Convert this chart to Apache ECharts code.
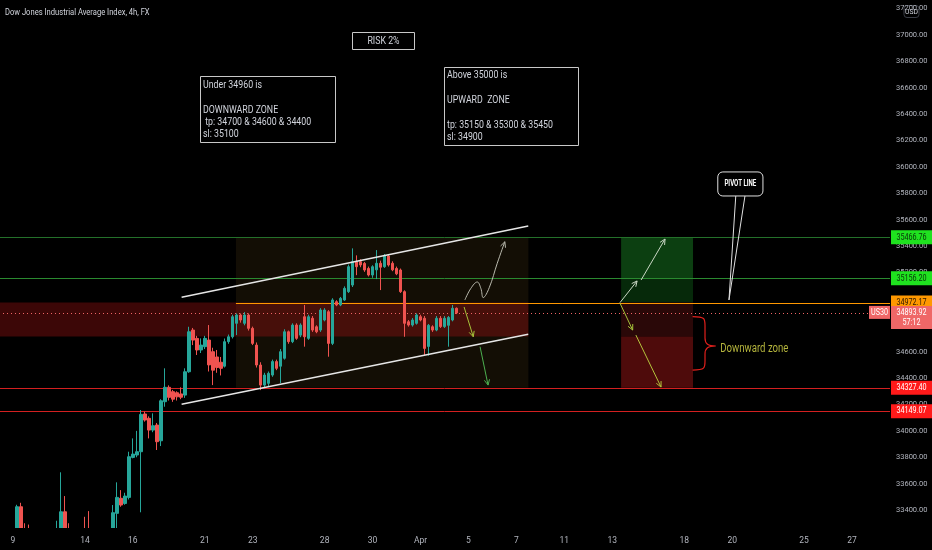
<!DOCTYPE html>
<html><head><meta charset="utf-8">
<script src="https://cdn.jsdelivr.net/npm/echarts@6/dist/echarts.min.js"></script>
<style>html,body{margin:0;padding:0;background:#000;}#c{width:932px;height:550px;}</style>
</head><body><div id="c"></div>
<script>
const FONT = "Roboto,'Liberation Sans',sans-serif";

// ---------- axis / categories ----------
const tradingDays = ['Mar 8','Mar 9','Mar 10','Mar 11','Mar 14','Mar 15','Mar 16','Mar 17','Mar 18','Mar 21','Mar 22','Mar 23','Mar 24','Mar 25','Mar 28','Mar 29','Mar 30','Mar 31','Apr 1','Apr 4','Apr 5','Apr 6','Apr 7','Apr 8','Apr 11','Apr 12','Apr 13','Apr 14','Apr 15','Apr 18','Apr 19','Apr 20','Apr 21','Apr 22','Apr 25','Apr 26','Apr 27','Apr 28'];
const barHours = ['01:00','05:00','09:00','13:00','17:00','21:00'];
const tickDays = ['Mar 9','Mar 14','Mar 16','Mar 21','Mar 23','Mar 28','Mar 30','Apr 1','Apr 5','Apr 7','Apr 11','Apr 13','Apr 18','Apr 20','Apr 25','Apr 27'];
const tickLabels = ['9','14','16','21','23','28','30','Apr','5','7','11','13','18','20','25','27'];
const firstDayBars = 3;
const totalBars = 223;
const yMin = 33264, yMax = 37265;

// ---------- candles (4h) ----------
const opens  = [32760,32700,32650,32640,33150,33425,33220,33240,33200,33150,32950,33020,33100,33050,33120,33200,33387,33200,33150,33050,32980,33100,33150,33050,32900,32800,32950,32960,33150,33375,33489,33450,33496,33799,33817,33842,34128,34095,34006,34044,33925,34221,34330,34297,34289,34280,34271,34448,34764,34701,34613,34638,34688,34600,34560,34520,34490,34676,34713,34815,34878,34815,34878,34777,34650,34499,34347,34360,34423,34525,34490,34550,34751,34676,34802,34726,34865,34701,34853,34789,34764,34840,34903,34663,34979,34954,34992,35055,35105,35282,35282,35269,35231,35181,35220,35270,35244,35325,35270,35231,35219,35055,34827,34802,34815,34865,34853,34640,34789,34764,34853,34790,34800,34840,34929];
const closes = [32700,32650,32630,33150,33425,33220,33190,33200,33150,32950,33020,33100,33050,33120,33200,33387,33200,33150,33050,32980,32950,33020,33050,32900,32800,32950,32960,33150,33380,33496,33438,33506,33804,33824,33842,34125,34082,34006,34039,33918,34228,34330,34254,34240,34258,34255,34448,34751,34688,34613,34650,34701,34500,34460,34480,34474,34676,34713,34865,34878,34840,34878,34777,34663,34499,34347,34423,34436,34525,34474,34600,34751,34676,34802,34701,34802,34713,34865,34764,34751,34916,34916,34663,34992,34954,35004,35080,35244,35282,35244,35257,35219,35181,35244,35270,35240,35325,35257,35220,35190,35055,34815,34802,34840,34878,34840,34625,34800,34764,34853,34790,34853,34860,34929,34894];
const lows   = [32640,32600,32580,32600,33080,33180,33150,33150,33100,32900,32880,32990,33000,33020,33080,33150,33160,33100,33000,32940,32900,32990,33000,32850,32750,32760,32900,32930,33120,33240,33425,33440,33480,33792,33800,33383,34070,33943,33990,33855,33885,34183,34230,34220,34230,34240,34250,34440,34650,34575,34590,34620,34450,34347,34440,34420,34480,34660,34700,34726,34820,34800,34760,34650,34480,34309,34330,34340,34410,34460,34362,34540,34660,34665,34690,34710,34638,34690,34750,34740,34750,34830,34562,34650,34945,34945,34985,35045,35090,35180,35240,35205,35170,35160,35150,35067,35235,35245,35210,35180,35045,34713,34790,34790,34805,34830,34575,34570,34750,34755,34780,34780,34638,34830,34885];
const highs  = [32800,32760,32720,33200,33440,33455,33300,33290,33250,33200,33080,33180,33200,33230,33319,33686,33506,33300,33220,33120,33050,33349,33392,33100,32950,33000,33050,33200,33438,33610,33551,33531,33842,33943,34000,34158,34145,34110,34133,34060,34240,34474,34345,34310,34300,34330,34474,34789,34780,34720,34701,34720,34802,34630,34613,34560,34700,34730,34880,34890,34890,34900,34890,34790,34670,34520,34440,34450,34540,34540,34620,34770,34760,34815,34815,34815,34954,34880,34870,34800,34930,34930,34915,35005,34990,35015,35095,35260,35383,35330,35300,35280,35245,35255,35370,35290,35340,35335,35285,35245,35230,35065,34840,34855,34890,34880,34870,34810,34800,34870,34870,34870,34870,34954,34935];

// ---------- horizontal levels ----------
const levelPrices = [35466.76, 35156.20, 34972.17, 34893.92, 34327.40, 34149.07];
const levelLabels = ['35466.76','35156.20','34972.17','34893.92','34327.40','34149.07'];
const levelStartIdx = [-0.5, -0.5, 58.8, -0.5, -0.5, -0.5];
const symbolTag = 'US30';
const countdown = '57:12';

// ---------- drawings (bar index, price) ----------
const zoneRects = [
  [58.8, 132, 35467, 34327],
  [-0.5, 132, 34972, 34716],
  [155.2, 173.2, 35466.76, 35156.2],
  [155.2, 173.2, 35156.2, 34972.17],
  [155.2, 173.2, 34972.17, 34716],
  [155.2, 173.2, 34716, 34327.4]
];
const channelLines = [
  [45.2, 35012, 131.96, 35552],
  [45.2, 34201, 131.96, 34732]
];
const arrowSegs = [
  [115.9, 34939, 118.2, 34713],
  [119.9, 34638, 121.9, 34347],
  [154.9, 34971, 159.2, 35136],
  [160.2, 35143, 166.2, 35454],
  [154.9, 34969, 158.1, 34764],
  [158.9, 34726, 165.2, 34332]
];
const curvePoints = [[116.1,34992],[117.6,35080],[119.2,35128],[120.1,35080],[120.7,35010],[122.2,35085],[124.2,35270],[126.1,35433]];
const pivotBox = [179.4, 190.7, 35962, 35780];
const pivotPointer = [183.9, 186.2, 182.2, 34992];
const braceAnchor = [173.1, 176.2, 178.9, 34866, 34643, 34461];
const zoneTextAnchor = [180.0, 34620];

// ---------- styles ----------
const zoneColors = ['rgba(58,42,16,0.32)','rgba(150,18,18,0.40)','#0c3f11','#06290a','#2a0808','#4e0b0b'];
const levelStyles = [
  {line:'#24702a', dash:null, bg:'#1fe21f', fg:'#0a320a'},
  {line:'#2a8a30', dash:null, bg:'#1fe21f', fg:'#0a320a'},
  {line:'#ff9800', dash:null, bg:'#ff9800', fg:'#2b1700'},
  {line:'#f06464', dash:[1,3], bg:'#ef6767', fg:'#ffffff'},
  {line:'#d32020', dash:null, bg:'#ff1a1a', fg:'#ffffff'},
  {line:'#d32020', dash:null, bg:'#ff1a1a', fg:'#ffffff'}
];
const arrowColors = ['#a6c23a','#4caf50','#c9d6c4','#c9d6c4','#a6c23a','#b4c43c'];
const NARROW = 0.8;

// build categories
const categories = [];
tradingDays.forEach((d,k)=>{ barHours.forEach((h,b)=>{ if(k===0 && b < barHours.length-firstDayBars) return; categories.push(d+' '+h); }); });
categories.length = totalBars;
const tickMap = {};
tickDays.forEach((d,i)=>{ tickMap[d+' '+barHours[0]] = tickLabels[i]; });

const candleData = opens.map((o,i)=>[o, closes[i], lows[i], highs[i]]);

function arrowParts(p0, p1, col){
  const ang = Math.atan2(p1[1]-p0[1], p1[0]-p0[0]);
  const L = 6, a = 0.45;
  const h1 = [p1[0]-L*Math.cos(ang-a), p1[1]-L*Math.sin(ang-a)];
  const h2 = [p1[0]-L*Math.cos(ang+a), p1[1]-L*Math.sin(ang+a)];
  return [
    {type:'line', shape:{x1:p0[0],y1:p0[1],x2:p1[0],y2:p1[1]}, style:{stroke:col,lineWidth:1}},
    {type:'polyline', shape:{points:[h1,p1,h2]}, style:{stroke:col,fill:null,lineWidth:1}}
  ];
}
function ntext(x, y, text, opts, sx){
  return {type:'text', x:x, y:y, scaleX:sx || NARROW,
    style:Object.assign({text:text, x:0, y:0, fontFamily:FONT}, opts)};
}

const chart = echarts.init(document.getElementById('c'), null, {renderer:'canvas'});
const txt = '#d1d4dc';

chart.setOption({
  backgroundColor:'#000000',
  animation:false,
  grid:{left:-1, right:42, top:0, bottom:22, outerBoundsMode:'none', containLabel:false},
  xAxis:[
    {type:'category', data:categories, boundaryGap:true, z:30,
     axisLine:{show:false}, axisTick:{show:false}, splitLine:{show:false},
     axisLabel:{color:'#b2b5be', fontSize:8.5, fontFamily:FONT, margin:8,
       interval:(idx, val)=> tickMap[val] !== undefined,
       formatter:(val)=> tickMap[val] || ''}},
    {type:'value', min:-0.5, max:totalBars-0.5, show:false}
  ],
  yAxis:[{type:'value', position:'right', min:yMin, max:yMax, splitNumber:20, minInterval:200, maxInterval:200, scale:true, z:5,
    axisLine:{show:false}, axisTick:{show:false}, splitLine:{show:false},
    axisLabel:{color:'#b2b5be', fontSize:7.5, fontFamily:FONT, margin:6, showMinLabel:false, showMaxLabel:false,
      formatter:(v)=> v.toFixed(2)}}],
  series:[
    {type:'custom', xAxisIndex:1, yAxisIndex:0, z:1, silent:true, clip:true,
     data: zoneRects, encode:{x:[0,1], y:[2,3]},
     renderItem:(params, api)=>{
       const a = api.coord([api.value(0), api.value(2)]);
       const b = api.coord([api.value(1), api.value(3)]);
       return {type:'rect', shape:{x:a[0], y:a[1], width:b[0]-a[0], height:b[1]-a[1]}, style:{fill:zoneColors[params.dataIndex]}};
     }},
    {type:'custom', xAxisIndex:1, yAxisIndex:0, z:2, silent:true,
     data: levelPrices.map((p,i)=>[levelStartIdx[i], p]), encode:{x:0, y:1},
     renderItem:(params, api)=>{
       const i = params.dataIndex, st = levelStyles[i];
       const a = api.coord([api.value(0), api.value(1)]);
       const xr = params.coordSys.x + params.coordSys.width;
       const y = Math.round(a[1]) + 0.5;
       return {type:'line', shape:{x1:a[0], y1:y, x2:xr, y2:y}, style:{stroke:st.line, lineWidth:1, lineDash:st.dash}};
     }},
    {type:'candlestick', xAxisIndex:0, yAxisIndex:0, z:3, data:candleData, barWidth:3, clip:true,
     itemStyle:{color:'#26a69a', color0:'#ef5350', borderColor:'#26a69a', borderColor0:'#ef5350', borderWidth:1}},
    {type:'custom', xAxisIndex:1, yAxisIndex:0, z:4, silent:true,
     data: channelLines, encode:{x:[0,2], y:[1,3]},
     renderItem:(params, api)=>{
       const a = api.coord([api.value(0), api.value(1)]);
       const b = api.coord([api.value(2), api.value(3)]);
       return {type:'line', shape:{x1:a[0],y1:a[1],x2:b[0],y2:b[1]}, style:{stroke:'#e6e6e6', lineWidth:1.5}};
     }},
    {type:'custom', xAxisIndex:1, yAxisIndex:0, z:4, silent:true,
     data: arrowSegs, encode:{x:[0,2], y:[1,3]},
     renderItem:(params, api)=>{
       const a = api.coord([api.value(0), api.value(1)]);
       const b = api.coord([api.value(2), api.value(3)]);
       return {type:'group', children: arrowParts(a, b, arrowColors[params.dataIndex])};
     }},
    {type:'custom', xAxisIndex:1, yAxisIndex:0, z:5, silent:true,
     data: [[0]],
     renderItem:(params, api)=>{
       const pts = curvePoints.map(p=>api.coord(p));
       const n = pts.length;
       const children = [
         {type:'polyline', shape:{points:pts, smooth:0.4}, style:{stroke:'#b9b9ad', fill:null, lineWidth:1}}
       ];
       arrowParts(pts[n-2], pts[n-1], '#b9b9ad').slice(1).forEach(c=>children.push(c));
       const b1 = api.coord([pivotPointer[0], pivotBox[3]]);
       const b2 = api.coord([pivotPointer[1], pivotBox[3]]);
       const tip = api.coord([pivotPointer[2], pivotPointer[3]]);
       children.push({type:'polyline', shape:{points:[b1, tip, b2]}, style:{stroke:'#e0e0e0', fill:null, lineWidth:1}});
       const tl = api.coord([pivotBox[0], pivotBox[2]]);
       const br = api.coord([pivotBox[1], pivotBox[3]]);
       children.push({type:'rect', shape:{x:tl[0], y:tl[1], width:br[0]-tl[0], height:br[1]-tl[1], r:5},
         style:{fill:'#000', stroke:'#e0e0e0', lineWidth:1}});
       children.push(ntext((tl[0]+br[0])/2, (tl[1]+br[1])/2, 'PIVOT LINE',
         {align:'center', verticalAlign:'middle', fill:'#ffffff', fontSize:8.5, fontWeight:'bold'}, 0.72));
       const xa = api.coord([braceAnchor[0], braceAnchor[3]])[0];
       const xm = api.coord([braceAnchor[1], braceAnchor[3]])[0];
       const xt = api.coord([braceAnchor[2], braceAnchor[3]])[0];
       const yT = api.coord([braceAnchor[0], braceAnchor[3]])[1];
       const yM = api.coord([braceAnchor[0], braceAnchor[4]])[1];
       const yB = api.coord([braceAnchor[0], braceAnchor[5]])[1];
       const d = `M${xa},${yT} C${xm},${yT} ${xm},${yT+2} ${xm},${yT+9} L${xm},${yM-8} C${xm},${yM-2} ${xm+3},${yM} ${xt},${yM} C${xm+3},${yM} ${xm},${yM+2} ${xm},${yM+8} L${xm},${yB-9} C${xm},${yB-2} ${xm},${yB} ${xa},${yB}`;
       children.push({type:'path', shape:{pathData:d}, style:{stroke:'#e0201c', fill:null, lineWidth:1.2}});
       const tp = api.coord(zoneTextAnchor);
       children.push(ntext(tp[0], tp[1], 'Downward zone', {align:'left', verticalAlign:'middle', fill:'#b3b33c', fontSize:12}));
       return {type:'group', children};
     }},
    {type:'custom', xAxisIndex:1, yAxisIndex:0, z:10, silent:true,
     data: levelPrices.map((p,i)=>[i,p]), encode:{y:1},
     renderItem:(params, api)=>{
       const i = params.dataIndex, st = levelStyles[i];
       const cs = params.coordSys;
       const y = api.coord([0, api.value(1)])[1];
       const x = cs.x + cs.width + 1;
       const children = [];
       const last = (i === 3);
       children.push({type:'rect', shape:{x:x, y:y-7, width:41, height:last?23:14}, style:{fill:st.bg}});
       children.push(ntext(x+20.5, y, levelLabels[i], {align:'center', verticalAlign:'middle', fill:st.fg, fontSize:9}));
       if (last){
         children.push(ntext(x+20.5, y+10, countdown, {align:'center', verticalAlign:'middle', fill:st.fg, fontSize:9}));
         children.push({type:'rect', shape:{x:x-22, y:y-7, width:21, height:13}, style:{fill:st.bg}});
         children.push(ntext(x-11.5, y-0.5, symbolTag, {align:'center', verticalAlign:'middle', fill:'#ffffff', fontSize:9}));
       }
       return {type:'group', children};
     }}
  ],
  graphic:[
    // mask below the plotting area (candles are cut at the time scale)
    {type:'rect', x:0, y:0, z:20, silent:true, shape:{x:0, y:528, width:890, height:22}, style:{fill:'#000'}},
    {type:'group', x:0, y:0, z:25, children:[
      ntext(5, 13, 'Dow Jones Industrial Average Index, 4h, FX', {fill:txt, fontSize:9.5, verticalAlign:'middle'}),
      {type:'rect', shape:{x:904,y:5.5,width:15,height:12,r:3}, style:{fill:'#000', stroke:'#3a3d45', lineWidth:1}},
      ntext(911.5, 11.5, 'USD', {align:'center', verticalAlign:'middle', fill:txt, fontSize:8}, 0.85),
      {type:'rect', shape:{x:352.5,y:32.5,width:62,height:17}, style:{fill:null, stroke:'#c8c8c8', lineWidth:1}},
      ntext(383.5, 41, 'RISK 2%', {align:'center', verticalAlign:'middle', fill:txt, fontSize:11}),
      {type:'rect', shape:{x:200.5,y:76.5,width:135,height:66}, style:{fill:null, stroke:'#c8c8c8', lineWidth:1}},
      ntext(203, 78.8, 'Under 34960 is\n\nDOWNWARD ZONE\n tp: 34700 & 34600 & 34400\nsl: 35100', {fill:txt, fontSize:11, lineHeight:12.4}),
      {type:'rect', shape:{x:444.5,y:67.5,width:134,height:78}, style:{fill:null, stroke:'#c8c8c8', lineWidth:1}},
      ntext(447, 69.5, 'Above 35000 is\n\nUPWARD  ZONE\n\ntp: 35150 & 35300 & 35450\nsl: 34900', {fill:txt, fontSize:11, lineHeight:12.4})
    ]}
  ]
});
</script>
</body></html>
